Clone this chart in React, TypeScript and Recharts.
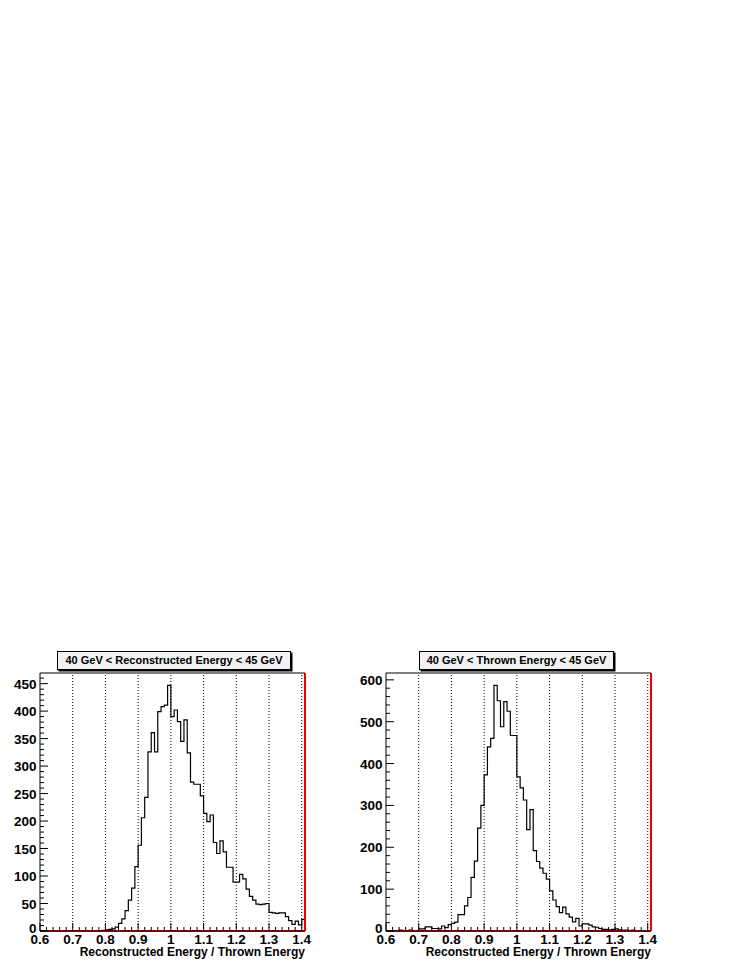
import React from "react";
import { ComposedChart, Line, XAxis, YAxis, ReferenceLine } from "recharts";

// histogram bins: 0.60 .. 1.41, width 0.01
const BIN_START = 0.6;
const BIN_WIDTH = 0.01;

const RECO_COUNTS = [
  0, 0, 0, 0, 0, 0, 0, 0, 0, 0,
  0, 0, 0, 0, 0, 0, 0, 0, 0, 1,
  2, 3, 4, 7, 14, 22, 37, 56, 78, 117,
  156, 206, 243, 326, 361, 326, 399, 408, 411, 447,
  390, 402, 381, 345, 384, 324, 271, 267, 267, 246,
  214, 199, 211, 161, 141, 164, 144, 116, 116, 89,
  89, 103, 95, 76, 63, 56, 49, 48, 49, 50,
  34, 33, 32, 33, 33, 26, 19, 12, 18, 11,
  21,
];

const THROWN_COUNTS = [
  1, 1, 0, 1, 2, 1, 1, 2, 1, 1,
  5, 5, 10, 10, 6, 6, 5, 12, 8, 15,
  18, 21, 39, 39, 60, 80, 128, 167, 246, 300,
  373, 440, 460, 587, 550, 488, 548, 525, 467, 467,
  368, 342, 313, 242, 290, 192, 166, 150, 138, 124,
  96, 74, 58, 44, 57, 41, 33, 22, 30, 12,
  17, 17, 14, 10, 9, 6, 4, 4, 3, 4,
  5, 3, 2, 2, 1, 2, 1, 1, 1, 0,
  1,
];

const X_MIN = 0.6;
const X_MAX = 1.41;
const X_MAJOR = [0.7, 0.8, 0.9, 1.0, 1.1, 1.2, 1.3, 1.4];
const X_TITLE = "Reconstructed Energy / Thrown Energy";

const FONT = '"Liberation Sans", Arial, Helvetica, sans-serif';
const RED = "#ee0000";

function toSteps(counts: number[]) {
  const pts = counts.map((c, i) => ({ x: +(BIN_START + i * BIN_WIDTH).toFixed(2), y: c }));
  pts.push({ x: +(BIN_START + counts.length * BIN_WIDTH).toFixed(2), y: counts[counts.length - 1] });
  return pts;
}

function range(from: number, to: number, step: number) {
  const out: number[] = [];
  for (let v = from; v <= to + 1e-9; v += step) out.push(+v.toFixed(4));
  return out;
}

const isMajor = (v: number, step: number) => Math.abs(v / step - Math.round(v / step)) < 1e-6;

function XTick(props: any) {
  const { x, y, payload } = props;
  const v = payload.value;
  const major = isMajor(v, 0.1);
  return (
    <g>
      <line x1={x} y1={y} x2={x} y2={y - (major ? 8 : 4)} stroke="#000" />
      {major && (
        <text x={x} y={y + 12.5} textAnchor="middle" fontSize={13.5} fontWeight="bold" fontFamily={FONT} fill="#000">
          {String(Math.round(v * 10) / 10)}
        </text>
      )}
    </g>
  );
}

function makeYTick(majorStep: number) {
  return function YTick(props: any) {
    const { x, y, payload } = props;
    const v = payload.value;
    const major = isMajor(v, majorStep);
    return (
      <g>
        <line x1={x} y1={y} x2={x + (major ? 8 : 4)} y2={y} stroke="#000" />
        {major && (
          <text x={x - 3.5} y={v === 0 ? y + 2 : y + 5} textAnchor="end" fontSize={13.5} fontWeight="bold" fontFamily={FONT} fill="#000">
            {v}
          </text>
        )}
      </g>
    );
  };
}

function HistPanel({
  counts,
  title,
  left,
  majorStep,
  minorStep,
  titleBox,
}: {
  counts: number[];
  title: string;
  left: number;
  majorStep: number;
  minorStep: number;
  titleBox: [number, number];
}) {
  const data = toSteps(counts);
  const yMax = Math.max(...counts) * 1.05;
  const yTicks = range(0, yMax, minorStep);
  const xTicks = range(X_MIN, 1.4, 0.02);
  const YTick = makeYTick(majorStep);
  return (
    <>
      <div style={{ position: "absolute", left, top: 640 }}>
        <ComposedChart width={330} height={327} data={data} margin={{ top: 33, right: 25, bottom: 0, left: 0 }}>
          <XAxis
            dataKey="x"
            type="number"
            domain={[X_MIN, X_MAX]}
            ticks={xTicks}
            interval={0}
            allowDataOverflow
            tickLine={false}
            tickSize={0}
            tickMargin={0}
            tick={<XTick />}
            axisLine={{ stroke: "#000" }}
            height={36}
          />
          <YAxis
            type="number"
            domain={[0, yMax]}
            ticks={yTicks}
            interval={0}
            allowDataOverflow
            tickLine={false}
            tickSize={0}
            tickMargin={0}
            tick={<YTick />}
            axisLine={{ stroke: "#000" }}
            width={40}
          />
          {X_MAJOR.map((v) => (
            <ReferenceLine key={v} x={v} stroke="#000" strokeDasharray="1 2" strokeWidth={1} />
          ))}
          <ReferenceLine y={yMax} stroke="#000" strokeWidth={1} />
          <Line
            dataKey="y"
            type="stepAfter"
            stroke="#000"
            strokeWidth={1.2}
            dot={false}
            isAnimationActive={false}
          />
          <ReferenceLine y={0} stroke={RED} strokeWidth={2} />
          <ReferenceLine x={X_MAX} stroke={RED} strokeWidth={2} />
        </ComposedChart>
      </div>
      <div
        style={{
          position: "absolute",
          left: titleBox[0],
          top: 651,
          width: titleBox[1] - titleBox[0],
          height: 19,
          boxSizing: "border-box",
          border: "1px solid #000",
          boxShadow: "1.5px 1.5px 0 #000",
          background: "#f2f2f2",
          fontFamily: FONT,
          fontWeight: "bold",
          fontSize: 11,
          lineHeight: "17px",
          textAlign: "center",
          color: "#000",
        }}
      >
        {title}
      </div>
      <div
        style={{
          position: "absolute",
          left: left + 30,
          width: 275,
          top: 945,
          fontFamily: FONT,
          fontWeight: "bold",
          fontSize: 12,
          lineHeight: "14px",
          textAlign: "right",
          color: "#000",
        }}
      >
        {X_TITLE}
      </div>
    </>
  );
}

export default function App() {
  return (
    <div style={{ position: "absolute", left: 0, top: 0, width: 747, height: 967, background: "#fff", overflow: "hidden" }}>
      <HistPanel
        counts={RECO_COUNTS}
        title="40 GeV < Reconstructed Energy < 45 GeV"
        left={0}
        majorStep={50}
        minorStep={10}
        titleBox={[57, 291]}
      />
      <HistPanel
        counts={THROWN_COUNTS}
        title="40 GeV < Thrown Energy < 45 GeV"
        left={346}
        majorStep={100}
        minorStep={20}
        titleBox={[419, 614]}
      />
    </div>
  );
}
